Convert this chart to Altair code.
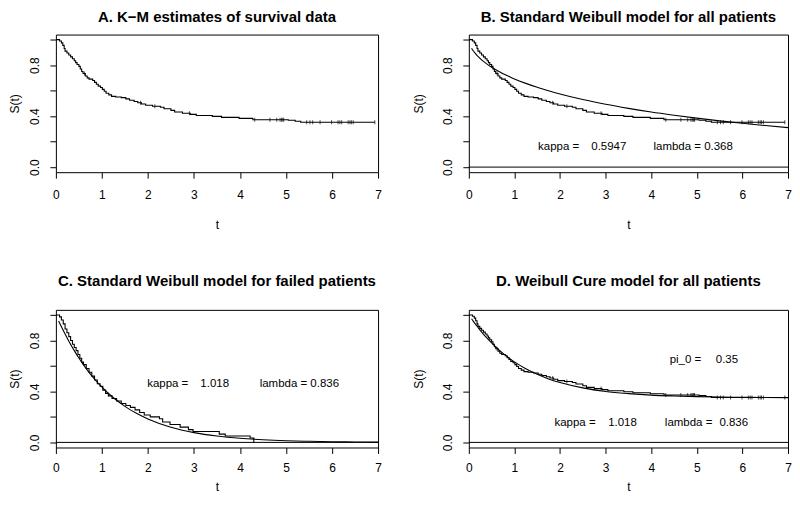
import altair as alt
import pandas as pd

# ---- Kaplan-Meier estimate, all patients ----
km_time = [0, 0.08, 0.12, 0.15, 0.18, 0.20, 0.24, 0.28, 0.32, 0.36, 0.40, 0.43, 0.46, 0.50, 0.53,
           0.56, 0.59, 0.64, 0.68, 0.72, 0.80, 0.84, 0.88, 0.92, 0.97, 1.01, 1.05, 1.09, 1.15, 1.21,
           1.30, 1.42, 1.52, 1.60, 1.70, 1.78, 1.86, 1.95, 2.10, 2.27, 2.35, 2.50, 2.58, 2.75, 2.92,
           3.05, 3.40, 3.60, 3.98, 4.28, 5.05, 5.20, 5.32, 6.93]
km_surv = [1.0, 0.99, 0.975, 0.955, 0.93, 0.91, 0.895, 0.88, 0.865, 0.85, 0.835, 0.82, 0.805, 0.79, 0.77,
           0.75, 0.735, 0.715, 0.70, 0.69, 0.68, 0.665, 0.65, 0.635, 0.625, 0.61, 0.595, 0.58, 0.567, 0.555,
           0.55, 0.545, 0.535, 0.525, 0.515, 0.505, 0.495, 0.485, 0.478, 0.47, 0.458, 0.445, 0.432, 0.422, 0.414,
           0.405, 0.398, 0.39, 0.382, 0.372, 0.368, 0.36, 0.352, 0.352]
censor_time = [0.62, 1.84, 2.15, 2.9, 4.32, 4.65, 4.8, 4.87, 4.9, 4.93, 4.95, 5.45, 5.52, 5.58,
               5.74, 5.99, 6.13, 6.17, 6.21, 6.35, 6.39, 6.42, 6.46, 6.93]

# ---- Kaplan-Meier estimate, failed patients ----
fail_time = [0, 0.08, 0.12, 0.16, 0.20, 0.24, 0.28, 0.32, 0.36, 0.40, 0.44, 0.48, 0.52, 0.56, 0.60,
             0.66, 0.72, 0.78, 0.84, 0.90, 0.96, 1.02, 1.08, 1.14, 1.22, 1.32, 1.42, 1.52, 1.62, 1.72,
             1.82, 1.92, 2.05, 2.25, 2.32, 2.48, 2.70, 2.88, 2.98, 3.55, 3.68, 4.22, 4.30]
fail_surv = [1.0, 0.985, 0.96, 0.93, 0.89, 0.86, 0.83, 0.80, 0.77, 0.745, 0.72, 0.69, 0.66, 0.63, 0.61,
             0.58, 0.55, 0.52, 0.49, 0.46, 0.44, 0.41, 0.385, 0.365, 0.345, 0.325, 0.305, 0.29, 0.275, 0.255,
             0.235, 0.215, 0.20, 0.185, 0.16, 0.14, 0.12, 0.10, 0.085, 0.065, 0.05, 0.035, 0.0]

# ---- fitted model curves ----
fit_t = [0.06, 0.1, 0.15, 0.2, 0.3, 0.4, 0.5, 0.6, 0.75, 0.9, 1.0, 1.25, 1.5, 1.75, 2.0,
         2.5, 3.0, 3.5, 4.0, 4.5, 5.0, 5.5, 6.0, 6.5, 7.0]
weib_all = [0.933, 0.911, 0.888, 0.868, 0.835, 0.808, 0.784, 0.762, 0.733, 0.708, 0.692, 0.657, 0.626,
            0.599, 0.574, 0.530, 0.493, 0.461, 0.432, 0.407, 0.384, 0.363, 0.344, 0.326, 0.310]
weib_failed = [0.953, 0.923, 0.886, 0.850, 0.782, 0.720, 0.662, 0.608, 0.536, 0.472, 0.433, 0.350, 0.283,
               0.228, 0.184, 0.119, 0.077, 0.050, 0.032, 0.021, 0.0135, 0.0087, 0.0056, 0.0036, 0.0023]
weib_cure = [0.970, 0.950, 0.926, 0.903, 0.858, 0.818, 0.780, 0.745, 0.698, 0.657, 0.632, 0.578, 0.534,
             0.498, 0.470, 0.428, 0.400, 0.383, 0.371, 0.364, 0.359, 0.356, 0.354, 0.352, 0.3515]

titles = ["A. K\u2212M estimates of survival data",
          "B. Standard Weibull model for all patients",
          "C. Standard Weibull model for failed patients",
          "D. Weibull Cure model for all patients"]

ann_B = (["kappa =", "0.5947", "lambda = 0.368"], [1.97, 3.07, 4.92], [0.16, 0.16, 0.16])
ann_C = (["kappa =", "1.018", "lambda = 0.836"], [2.43, 3.45, 5.29], [0.455, 0.455, 0.455])
ann_D = (["pi_0 =", "0.35", "kappa =", "1.018", "lambda =", "0.836"],
         [4.75, 5.66, 2.33, 3.37, 4.82, 5.81], [0.65, 0.65, 0.156, 0.156, 0.156, 0.156])

FONT = "Liberation Sans"
H = 138

km_df = pd.DataFrame({"t": km_time, "s": km_surv})
fail_df = pd.DataFrame({"t": fail_time, "s": fail_surv})


def step_value(t):
    v = km_surv[0]
    for tt, ss in zip(km_time, km_surv):
        if tt <= t:
            v = ss
    return v


cens_df = pd.DataFrame({"t": censor_time, "s": [step_value(c) for c in censor_time]})

xs = alt.Scale(domain=[0, 7], nice=False, zero=False)
ys = alt.Scale(domain=[-0.04, 1.04], nice=False, zero=False)

LABEL_EXPR = ("(abs(datum.value) < 0.01 || abs(datum.value - 0.4) < 0.01 || "
              "abs(datum.value - 0.8) < 0.01) ? format(datum.value, '.1f') : ''")


def x_axis(label_pad, title_pad):
    return alt.Axis(values=list(range(8)), title="t", grid=False, domain=False, tickSize=6,
                    tickColor="black", labelColor="black", titleColor="black",
                    labelFont=FONT, titleFont=FONT, labelFontSize=12, titleFontSize=12,
                    titleFontWeight="normal", labelPadding=label_pad, titlePadding=title_pad,
                    labelFlush=False, labelOverlap=False)


def y_axis(title_pad):
    return alt.Axis(values=[0, 0.2, 0.4, 0.6, 0.8, 1.0], title="S(t)", grid=False, domain=False,
                    tickSize=6, tickColor="black", labelColor="black", titleColor="black",
                    labelFont=FONT, titleFont=FONT, labelFontSize=12, titleFontSize=12,
                    titleFontWeight="normal", labelAngle=270, labelAlign="center",
                    labelBaseline="bottom", labelPadding=8, titlePadding=title_pad,
                    labelFlush=False, labelOverlap=False, labelExpr=LABEL_EXPR)


def panel(parts, title, width, xlpad, xtpad, ypad, title_gap):
    xa, ya = x_axis(xlpad, xtpad), y_axis(ypad)

    def enc(ch):
        return ch.encode(x=alt.X("t:Q", scale=xs, axis=xa), y=alt.Y("s:Q", scale=ys, axis=ya))

    layers = []
    for kind, payload in parts:
        if kind == "zero":
            layers.append(alt.Chart(pd.DataFrame({"s": [0.0]})).mark_rule(color="black", strokeWidth=1)
                          .encode(y=alt.Y("s:Q", scale=ys, axis=ya)))
        elif kind == "km":
            layers.append(enc(alt.Chart(payload).mark_line(interpolate="step-after", color="black",
                                                           strokeWidth=1.1, clip=True)))
        elif kind == "cens":
            layers.append(enc(alt.Chart(cens_df).mark_tick(orient="vertical", size=4, thickness=1,
                                                           color="black")))
        elif kind == "fit":
            df = pd.DataFrame({"t": fit_t, "s": payload})
            layers.append(enc(alt.Chart(df).mark_line(interpolate="monotone", color="black",
                                                      strokeWidth=1.1, clip=True)))
        elif kind == "text":
            labels, tx, ty = payload
            df = pd.DataFrame({"label": labels, "t": tx, "s": ty})
            layers.append(enc(alt.Chart(df).mark_text(font=FONT, fontSize=11.5, color="black"))
                          .encode(text="label:N"))
    # panel title drawn as a text mark above the plot area
    layers.append(alt.Chart(pd.DataFrame({"title": [title]})).mark_text(
        font=FONT, fontSize=15, fontWeight="bold", color="black", align="center",
        baseline="alphabetic").encode(x=alt.value(width / 2), y=alt.value(-title_gap), text="title:N"))
    return alt.layer(*layers).properties(width=width, height=H)


pA = panel([("km", km_df), ("cens", None)], titles[0], 323, 11, 19, 7, 13)
pB = panel([("zero", None), ("km", km_df), ("cens", None), ("fit", weib_all), ("text", ann_B)],
           titles[1], 320, 11, 19, 16, 13)
pC = panel([("zero", None), ("km", fail_df), ("fit", weib_failed), ("text", ann_C)],
           titles[2], 323, 9, 8, 7, 24)
pD = panel([("zero", None), ("km", km_df), ("cens", None), ("fit", weib_cure), ("text", ann_D)],
           titles[3], 320, 9, 8, 16, 24)

chart = alt.vconcat(
    alt.hconcat(pA, pB, spacing=30),
    alt.hconcat(pC, pD, spacing=30),
    spacing=42,
).properties(
    padding=0,
    background="white",
).configure_view(stroke="black", strokeWidth=1)

chart.save("out.html", embed_options={"renderer": "svg", "actions": False})
